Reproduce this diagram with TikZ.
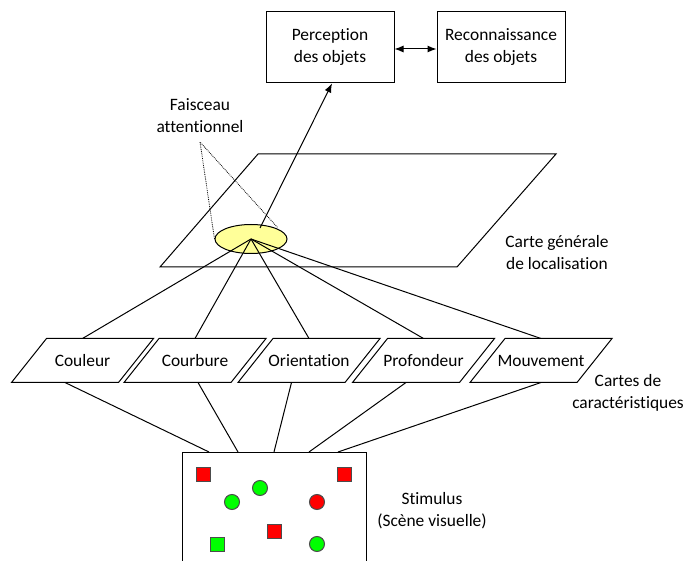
\documentclass[tikz,border=0pt]{standalone}
\usepackage{fontspec}
\setmainfont{Carlito}[Ligatures={NoCommon,NoContextual}]
\usetikzlibrary{shapes.geometric,arrows.meta}

\definecolor{jaune}{RGB}{255,255,153}
\definecolor{rouge}{RGB}{255,0,0}
\definecolor{vert}{RGB}{0,255,0}

\tikzset{
	carte/.style={minimum width=106pt, minimum height=43pt, inner sep=0pt},
	boite/.style={draw, minimum width=128pt, minimum height=71pt, align=center},
	carre/.style={draw=black!70, fill=#1, minimum size=14pt, inner sep=0pt},
	rond/.style={circle, draw=black!70, fill=#1, minimum size=15pt, inner sep=0pt},
	legende/.style={align=center},
	fleche/.style={-{Latex[length=9pt,width=7pt]}}
}

\begin{document}
\begin{tikzpicture}[x=1pt, y=-1pt, line width=1pt, font=\fontsize{17.4pt}{22pt}\selectfont]
	
	\useasboundingbox (0,0) rectangle (686,561);
	\clip (0,0) rectangle (686,561);
	
	% boites du haut
	\node[boite] (perception) at (330,47.5) {Perception\\des objets};
	\node[boite] (reconnaissance) at (501,47.5) {Reconnaissance\\des objets};
	\draw[{Latex[length=9pt,width=7pt]}-{Latex[length=9pt,width=7pt]}] ([yshift=-1.5pt]perception.east) -- ([yshift=-1.5pt]reconnaissance.west);
	
	% carte generale
	\draw (258,154) -- (556,154) -- (457,267) -- (160,267) -- cycle;
	\node[legende] (cartegen) at (557,252.5) {Carte générale\\de localisation};
	
	% faisceau attentionnel
	\node[ellipse, draw, fill=jaune, minimum width=72pt, minimum height=29pt, inner sep=0pt] (faisceau) at (251,239) {};
	\node[legende] (lblfaisceau) at (200,115.5) {Faisceau\\attentionnel};
	\coordinate (sommet) at (200,142);
	\coordinate (bord) at (278,228);
	\draw[densely dotted, line width=0.8pt] (faisceau.west) -- (sommet) -- (bord);
	\coordinate (depart) at (260,228);
	\draw[fleche] (depart) -- ([xshift=2pt]perception.south);
	
	% cartes de caracteristiques
	\node[carte] (couleur) at (82.5,360.5) {Couleur};
	\node[carte] (courbure) at (195,360.5) {Courbure};
	\node[carte] (orientation) at (309,360.5) {Orientation};
	\node[carte] (profondeur) at (423.5,360.5) {Profondeur};
	\node[carte] (mouvement) at (541,360.5) {Mouvement};
	\node[legende] (lblcartes) at (628,393) {Cartes de\\caractéristiques};
	
	\foreach \c in {couleur,courbure,orientation,profondeur,mouvement}{
		\draw ([xshift=-17.5pt]\c.south west) -- ([xshift=17.5pt]\c.north west)
			-- ([xshift=17.5pt]\c.north east) -- ([xshift=-17.5pt]\c.south east) -- cycle;
		\draw (faisceau.center) -- (\c.north);
	}
	
	% stimulus
	\node[draw, minimum width=184pt, minimum height=200pt, anchor=north] (stimulus) at (274,452) {};
	\node[legende] (lblstim) at (432,511) {Stimulus\\(Scène visuelle)};
	
	\draw ([xshift=-17.5pt]couleur.south) -- ([xshift=-65pt]stimulus.north);
	\draw ([xshift=3pt]courbure.south) -- ([xshift=-36pt]stimulus.north);
	\draw ([xshift=-17.5pt]orientation.south) -- (stimulus.north);
	\draw ([xshift=-17.5pt]profondeur.south) -- ([xshift=35pt]stimulus.north);
	\draw (mouvement.south) -- ([xshift=64pt]stimulus.north);
	
	\node[carre=rouge] (r1) at (203.5,474) {};
	\node[carre=rouge] (r2) at (344.5,474) {};
	\node[carre=rouge] (r3) at (274,531) {};
	\node[carre=vert] (v1) at (217,544) {};
	\node[rond=vert] (v2) at (260,488) {};
	\node[rond=vert] (v3) at (232,502) {};
	\node[rond=vert] (v4) at (317,544) {};
	\node[rond=rouge] (r4) at (317,502) {};
	
\end{tikzpicture}
\end{document}
